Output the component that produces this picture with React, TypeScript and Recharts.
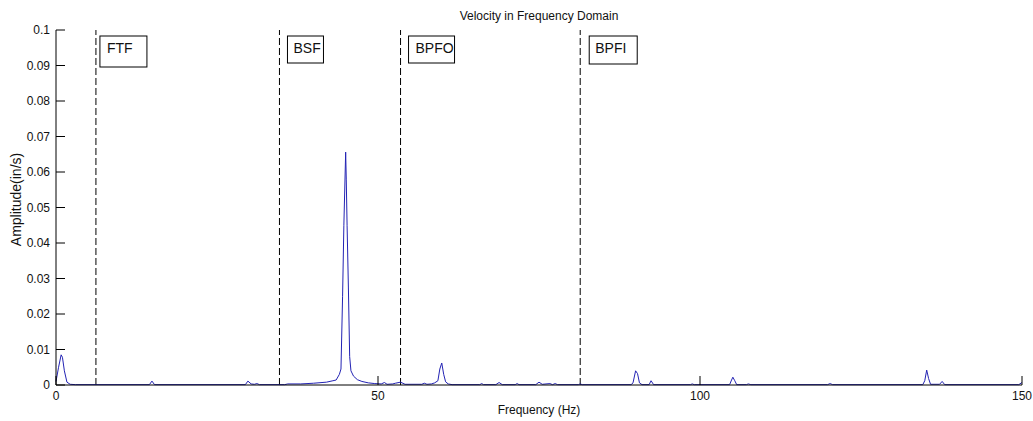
import { Line, LineChart, ReferenceLine, XAxis, YAxis } from "recharts";

// [frequency Hz, amplitude in/s]
const SPECTRUM: [number, number][] = [
  [0, 0.001], [0.4, 0.005], [0.8, 0.0085], [1.0, 0.0078], [1.3, 0.004], [1.7, 0.0008], [2.2, 0.0002], [3, 0.0001],
  [14.5, 0.0001], [14.9, 0.0011], [15.3, 0.0001],
  [29.4, 0.0001], [29.8, 0.0011], [30.3, 0.0003], [30.8, 0.0002], [31.2, 0.0004], [31.6, 0.0001],
  [35.5, 0.0001], [36, 0.0003], [38, 0.0003], [40, 0.0005], [42, 0.0008], [43, 0.0012], [43.5, 0.0014],
  [44, 0.003], [44.25, 0.0045], [44.5, 0.025], [44.7, 0.045], [44.98, 0.0656], [45.07, 0.058], [45.2, 0.045],
  [45.4, 0.0276], [45.6, 0.008], [45.8, 0.004], [46.2, 0.0025], [46.8, 0.0015], [47.5, 0.001], [48.5, 0.0006],
  [49.5, 0.0004], [50.5, 0.0003], [51, 0.0007], [51.4, 0.0002], [52.3, 0.0003], [52.7, 0.0005], [53.5, 0.0008], [54.2, 0.0002],
  [56.8, 0.0002], [57.2, 0.0005], [57.6, 0.0002], [58.3, 0.0003], [58.8, 0.0006], [59.3, 0.0012], [59.6, 0.0045],
  [59.9, 0.0062], [60.2, 0.003], [60.5, 0.0009], [60.9, 0.0003], [61.5, 0.0001],
  [65.8, 0.0001], [66.1, 0.0004], [66.4, 0.0001],
  [68.3, 0.0001], [68.8, 0.0007], [69.3, 0.0001],
  [71.3, 0.0001], [71.6, 0.0004], [71.9, 0.0001],
  [74.5, 0.0001], [75, 0.0008], [75.5, 0.0002], [76.7, 0.0004], [77.1, 0.0001], [77.5, 0.0004], [77.9, 0.0001],
  [81.1, 0.0001], [81.4, 0.0003], [81.7, 0.0001],
  [89.3, 0.0001], [89.6, 0.0006], [90.0, 0.004], [90.3, 0.0032], [90.6, 0.0006], [91, 0.0001],
  [92.1, 0.0001], [92.4, 0.0012], [92.8, 0.0001],
  [98.5, 0.0001], [98.8, 0.0003], [99.1, 0.0001],
  [104.6, 0.0001], [104.9, 0.0014], [105.1, 0.0022], [105.4, 0.0012], [105.7, 0.0001],
  [107.2, 0.0001], [107.5, 0.0003], [107.9, 0.0001],
  [119.8, 0.0001], [120.2, 0.0004], [120.6, 0.0001],
  [134.6, 0.0001], [134.9, 0.0012], [135.2, 0.0042], [135.5, 0.0018], [135.8, 0.0002],
  [137.2, 0.0002], [137.6, 0.001], [138.0, 0.0001],
  [149.5, 0.0001], [150, 0.0007],
];

const X_TICKS = [0, 50, 100, 150];
const Y_TICKS = [0, 0.01, 0.02, 0.03, 0.04, 0.05, 0.06, 0.07, 0.08, 0.09, 0.1];

// bearing fault frequencies (Hz)
const MARKER_NAMES = ["FTF", "BSF", "BPFO", "BPFI"];
const MARKER_FREQS = [6.2, 34.7, 53.5, 81.4];

// label box geometry, px
const BOX_STYLE: Record<string, { dx: number; w: number; h: number; tx: number }> = {
  FTF: { dx: 4, w: 47, h: 31, tx: 7 },
  BSF: { dx: 8, w: 36, h: 27, tx: 6 },
  BPFO: { dx: 8, w: 46, h: 27, tx: 7 },
  BPFI: { dx: 9, w: 48, h: 28, tx: 6 },
};

const data = SPECTRUM.map(([f, a]) => ({ f, a }));

const FONT = "'Liberation Sans', Arial, sans-serif";
const TICK_LEN = 9;
const Y_MARGIN = 6;
const X_MARGIN = 5;

const fmtY = (v: number) => String(Math.round(v * 100) / 100);

function LeftTick(props: any) {
  const { x, y, payload } = props;
  const ax = x + Y_MARGIN;
  return (
    <g>
      <line x1={ax} x2={ax + TICK_LEN} y1={y} y2={y} stroke="#000" />
      <text x={x} y={y} dy="0.35em" textAnchor="end" fontSize={12} fontFamily={FONT} fill="#111">
        {fmtY(payload.value)}
      </text>
    </g>
  );
}

function RightTick(props: any) {
  const { x, y } = props;
  return <line x1={x} x2={x - TICK_LEN} y1={y} y2={y} stroke="#000" />;
}

function BottomTick(props: any) {
  const { x, y, payload } = props;
  const ay = y - X_MARGIN;
  return (
    <g>
      <line x1={x} x2={x} y1={ay} y2={ay - TICK_LEN} stroke="#000" />
      <text x={x} y={y} dy="0.85em" textAnchor="middle" fontSize={12} fontFamily={FONT} fill="#111">
        {payload.value}
      </text>
    </g>
  );
}

function TopTick(props: any) {
  const { x, y } = props;
  return <line x1={x} x2={x} y1={y} y2={y + TICK_LEN} stroke="#000" />;
}

function MarkerBox(props: any) {
  const { viewBox, name } = props;
  const s = BOX_STYLE[name];
  const bx = viewBox.x + s.dx;
  const by = viewBox.y + 6;
  return (
    <g>
      <rect x={bx} y={by} width={s.w} height={s.h} fill="none" stroke="#000" strokeWidth={1} />
      <text x={bx + s.tx} y={by + 17} fontSize={14} fontFamily={FONT} fill="#111">
        {name}
      </text>
    </g>
  );
}

function YLabel(props: any) {
  const { viewBox } = props;
  const cx = viewBox.x + 21;
  const cy = viewBox.y + viewBox.height / 2 - 8;
  return (
    <text
      x={cx}
      y={cy}
      transform={`rotate(-90 ${cx} ${cy})`}
      textAnchor="middle"
      fontSize={14}
      fontFamily={FONT}
      fill="#111"
    >
      Amplitude(in/s)
    </text>
  );
}

function XLabel(props: any) {
  const { viewBox } = props;
  return (
    <text
      x={viewBox.x + viewBox.width / 2}
      y={viewBox.y + 29}
      textAnchor="middle"
      fontSize={12}
      fontFamily={FONT}
      fill="#111"
    >
      Frequency (Hz)
    </text>
  );
}

export default function App() {
  return (
    <div style={{ position: "fixed", left: 0, top: 0, width: 1033, height: 421, background: "#fff" }}>
      <div
        style={{
          position: "absolute",
          left: 56,
          width: 966,
          top: 9,
          textAlign: "center",
          fontFamily: FONT,
          fontSize: 12,
          lineHeight: "14px",
          color: "#111",
        }}
      >
        Velocity in Frequency Domain
      </div>
      <LineChart width={1033} height={421} data={data} margin={{ top: 30, right: 11, bottom: 0, left: 0 }}>
        <XAxis
          dataKey="f"
          type="number"
          domain={[0, 150]}
          ticks={X_TICKS}
          interval={0}
          height={36}
          axisLine={{ stroke: "#000" }}
          tickLine={false}
          tickSize={0}
          tickMargin={X_MARGIN}
          tick={<BottomTick />}
          label={<XLabel />}
        />
        <XAxis
          xAxisId="top"
          orientation="top"
          type="number"
          domain={[0, 150]}
          ticks={X_TICKS}
          interval={0}
          height={0}
          axisLine={{ stroke: "#000" }}
          tickLine={false}
          tickSize={0}
          tickMargin={0}
          tick={<TopTick />}
        />
        <YAxis
          type="number"
          domain={[0, 0.1]}
          ticks={Y_TICKS}
          interval={0}
          width={56}
          axisLine={{ stroke: "#000" }}
          tickLine={false}
          tickSize={0}
          tickMargin={Y_MARGIN}
          tick={<LeftTick />}
          label={<YLabel />}
        />
        <YAxis
          yAxisId="right"
          orientation="right"
          type="number"
          domain={[0, 0.1]}
          ticks={Y_TICKS}
          interval={0}
          width={0}
          axisLine={{ stroke: "#000" }}
          tickLine={false}
          tickSize={0}
          tickMargin={0}
          tick={<RightTick />}
        />
        {MARKER_NAMES.map((name, i) => (
          <ReferenceLine
            key={name}
            x={MARKER_FREQS[i]}
            stroke="#000"
            strokeDasharray="7 3"
            label={<MarkerBox name={name} />}
          />
        ))}
        <Line
          type="linear"
          dataKey="a"
          stroke="#2323b4"
          strokeWidth={1}
          dot={false}
          activeDot={false}
          isAnimationActive={false}
        />
      </LineChart>
    </div>
  );
}
